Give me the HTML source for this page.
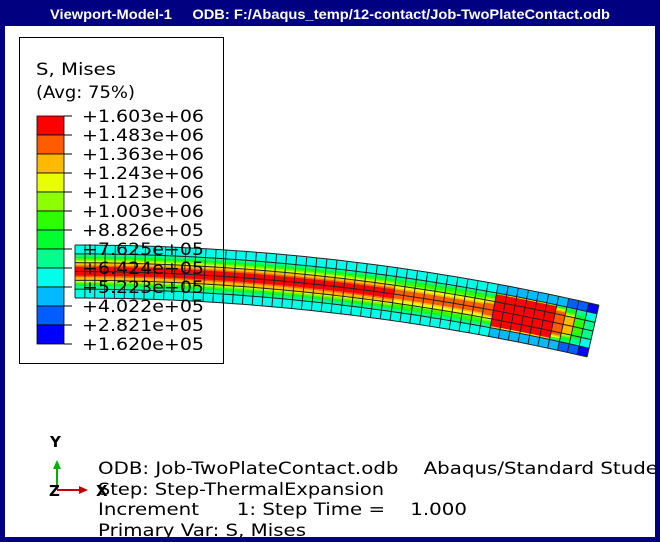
<!DOCTYPE html>
<html><head><meta charset="utf-8"><style>
html,body{margin:0;padding:0;background:#000080;}
svg{display:block;font-family:"DejaVu Sans","Liberation Sans",sans-serif;}
</style></head><body>
<svg width="660" height="542" viewBox="0 0 660 542">
<rect x="0" y="0" width="660" height="542" fill="#000080"/>
<text x="50" y="19" fill="#fff" font-size="14" font-weight="bold" textLength="560" lengthAdjust="spacingAndGlyphs" xml:space="preserve" style="font-family:'Liberation Sans',sans-serif">Viewport-Model-1     ODB: F:/Abaqus_temp/12-contact/Job-TwoPlateContact.odb</text>
<rect x="5" y="26" width="650" height="511" fill="#fff"/>
<g id="beam"></g>
<g id="legend">
<rect x="19.5" y="37.5" width="204" height="326" fill="none" stroke="#000" stroke-width="1"/>
<text x="36" y="75" font-size="17" textLength="80" lengthAdjust="spacingAndGlyphs">S, Mises</text>
<text x="36" y="98" font-size="17" textLength="99" lengthAdjust="spacingAndGlyphs">(Avg: 75%)</text>
</g>
<g>
<text x="50" y="447" font-size="15" font-weight="bold">Y</text>
<line x1="57" y1="489" x2="57" y2="466" stroke="#00b000" stroke-width="2"/>
<polygon points="57,460 53,469 61,469" fill="#00b000"/>
<line x1="57" y1="490" x2="80" y2="490" stroke="#c00000" stroke-width="2"/>
<polygon points="88,490 79,486 79,494" fill="#c00000"/>
<text x="49" y="496" font-size="15" font-weight="bold">Z</text>
<text x="96" y="496" font-size="15" font-weight="bold">X</text>
</g>
<g font-size="17">
<text x="98" y="474" textLength="560" lengthAdjust="spacingAndGlyphs" xml:space="preserve">ODB: Job-TwoPlateContact.odb    Abaqus/Standard Stude</text>
<text x="98" y="495" textLength="286" lengthAdjust="spacingAndGlyphs">Step: Step-ThermalExpansion</text>
<text x="98" y="515" textLength="369" lengthAdjust="spacingAndGlyphs" xml:space="preserve">Increment      1: Step Time =    1.000</text>
<text x="98" y="536" textLength="208" lengthAdjust="spacingAndGlyphs">Primary Var: S, Mises</text>
</g>
<rect x="0" y="537" width="660" height="5" fill="#000080"/>
<rect x="655" y="26" width="5" height="516" fill="#000080"/>
</svg>
<script>
const legendLabels=["+1.603e+06","+1.483e+06","+1.363e+06","+1.243e+06","+1.123e+06","+1.003e+06","+8.826e+05","+7.625e+05","+6.424e+05","+5.223e+05","+4.022e+05","+2.821e+05","+1.620e+05"];
const legendColors=["#ff0000","#ff5c00","#ffb900","#e8ff00","#8cff00","#2eff00","#00ff2e","#00ff8c","#00ffe8","#00baff","#005dff","#0000ff"];
// contour level (0=blue..11=red) at beam centre per column, outer level, and plateau half-width
const columnPeak=[11,11,11,11,11,11,11,11,11,11,11,11,11,11,11,11,11,11,11,11,11,11,11,11,11,11,11,11,11,11,11,11,10,10,10,10,10,10,10,10,10,10,11,11,11,11,11,11,10,9,6,4];
const columnOuter=[3,3,3,3,3,3,3,3,3,3,3,3,3,3,3,3,3,3,3,3,3,3,3,3,3,3,3,3,3,3,3,3,3,3,3,3,3,3,3,3,3,3,2,2,2,2,2,2,2,1,1,0];
const columnPlateau=[0.15,0.15,0.15,0.15,0.15,0.15,0.15,0.15,0.15,0.15,0.15,0.15,0.15,0.15,0.15,0.15,0.15,0.15,0.15,0.15,0.15,0.15,0.15,0.15,0.15,0.15,0.15,0.15,0.15,0.15,0.15,0.15,0.12,0.12,0.12,0.12,0.12,0.12,0.12,0.12,0.12,0.2,0.6,0.62,0.62,0.62,0.62,0.6,0.45,0.3,0.2,0.1];
const ns="http://www.w3.org/2000/svg";
const levelColor=l=>legendColors[11-Math.max(0,Math.min(11,l))];
const x0=75,x1=593,yc0=271.5,bend=59.5,half=26.5,rows=6,cols=columnPeak.length;
function pt(t,v){
  const cx=x0+(x1-x0)*t, cy=yc0+bend*t*t;
  const slope=2*bend*t/(x1-x0), n=Math.sqrt(1+slope*slope);
  const nx=-slope/n, ny=1/n;
  return [cx+nx*half*v, cy+ny*half*v];
}
const beam=document.getElementById('beam');
const sub=6;
for(let c=0;c<cols;c++){
  for(let r=0;r<rows*sub;r++){
    const v0=-1+2*r/(rows*sub), v1=-1+2*(r+1)/(rows*sub);
    const d=Math.abs((v0+v1)/2);
    const pk=columnPeak[c], out=columnOuter[c], pl=columnPlateau[c];
    let lvl;
    if(d<=pl) lvl=pk;
    else { const edge=Math.max(pl+0.06,0.68); lvl=Math.round(pk-(pk-3)*(d-pl)/(edge-pl)); lvl=Math.max(out,lvl); if(d>edge) lvl=out; }
    const a=pt(c/cols,v0),b=pt((c+1)/cols,v0),e=pt((c+1)/cols,v1),f=pt(c/cols,v1);
    const p=document.createElementNS(ns,'polygon');
    p.setAttribute('points',[a,b,e,f].map(q=>q.join(',')).join(' '));
    p.setAttribute('fill',levelColor(lvl));
    p.setAttribute('stroke',levelColor(lvl));
    p.setAttribute('stroke-width','0.4');
    
    
    beam.appendChild(p);
  }
}
for(let r=0;r<=rows;r++){
  const pts=[];for(let c=0;c<=cols;c++)pts.push(pt(c/cols,-1+2*r/rows).join(','));
  const l=document.createElementNS(ns,'polyline');
  l.setAttribute('points',pts.join(' '));l.setAttribute('fill','none');l.setAttribute('stroke','#222');l.setAttribute('stroke-width','1');
  
  
  beam.appendChild(l);
}
for(let c=0;c<=cols;c++){
  const a=pt(c/cols,-1),b=pt(c/cols,1);
  const l=document.createElementNS(ns,'line');
  l.setAttribute('x1',a[0]);l.setAttribute('y1',a[1]);l.setAttribute('x2',b[0]);l.setAttribute('y2',b[1]);
  l.setAttribute('stroke','#222');l.setAttribute('stroke-width','1');
  
  
  beam.appendChild(l);
}
const lg=document.getElementById('legend');
const barX=37,barY=116,cellH=19,barW=27;
legendColors.forEach((col,i)=>{
  const r=document.createElementNS(ns,'rect');
  r.setAttribute('x',barX);r.setAttribute('y',barY+i*cellH);r.setAttribute('width',barW);r.setAttribute('height',cellH);
  r.setAttribute('fill',col);r.setAttribute('stroke','#000');r.setAttribute('stroke-width','0.8');
  
  
  lg.appendChild(r);
});
legendLabels.forEach((lab,i)=>{
  const y=barY+i*cellH;
  const t=document.createElementNS(ns,'line');
  t.setAttribute('x1',barX+barW);t.setAttribute('x2',barX+barW+8);t.setAttribute('y1',y);t.setAttribute('y2',y);t.setAttribute('stroke','#000');
  
  
  lg.appendChild(t);
  const tx=document.createElementNS(ns,'text');
  tx.setAttribute('x',82);tx.setAttribute('y',y+6);tx.setAttribute('font-size','17');
  tx.setAttribute('textLength','122');tx.setAttribute('lengthAdjust','spacingAndGlyphs');
  tx.textContent=lab;
  
  
  lg.appendChild(tx);
});
</script>
</body></html>
